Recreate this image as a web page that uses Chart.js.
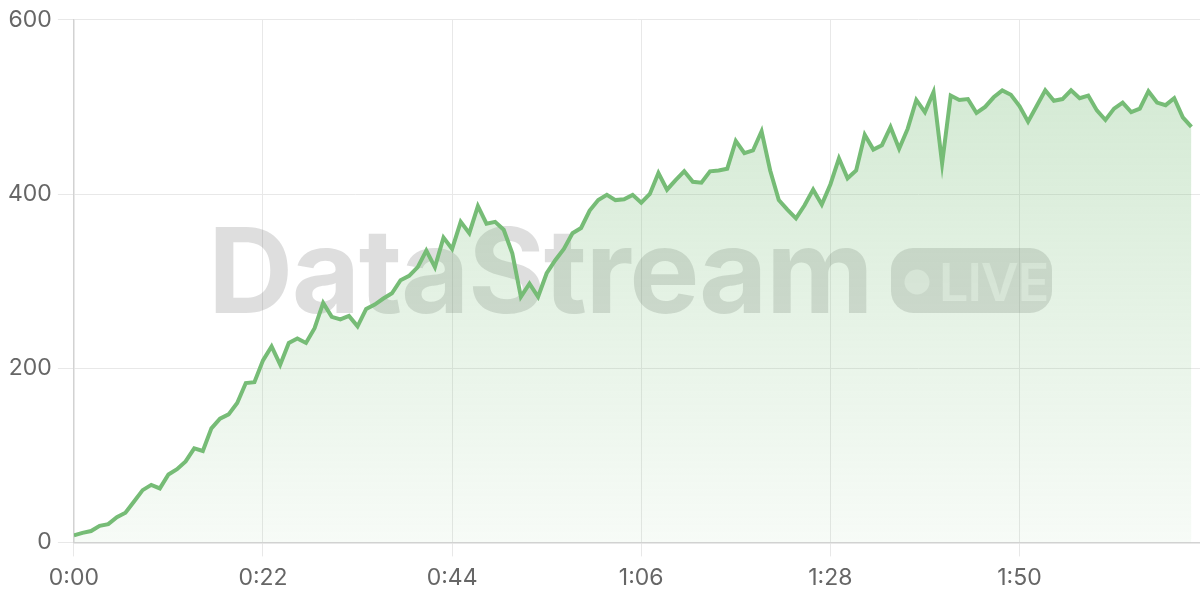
<!DOCTYPE html>
<html>
<head>
<meta charset="utf-8">
<script src="https://cdn.jsdelivr.net/npm/chart.js@4"></script>
<style>
  html, body { margin: 0; padding: 0; background: #fff; }
  #wrap { width: 1200px; height: 600px; }
</style>
</head>
<body>
<div id="wrap"><canvas id="chart" width="1200" height="600"></canvas></div>
<script>
// -------------------- DATA --------------------
const seconds = [
  0, 1, 2, 3, 4, 5, 6, 7, 8, 9, 10, 11, 12, 13, 14, 15, 16, 17, 18, 19,
  20, 21, 22, 23, 24, 25, 26, 27, 28, 29, 30, 31, 32, 33, 34, 35, 36, 37, 38, 39,
  40, 41, 42, 43, 44, 45, 46, 47, 48, 49, 50, 51, 52, 53, 54, 55, 56, 57, 58, 59,
  60, 61, 62, 63, 64, 65, 66, 67, 68, 69, 70, 71, 72, 73, 74, 75, 76, 77, 78, 79,
  80, 81, 82, 83, 84, 85, 86, 87, 88, 89, 90, 91, 92, 93, 94, 95, 96, 97, 98, 99,
  100, 101, 102, 103, 104, 105, 106, 107, 108, 109, 110, 111, 112, 113, 114, 115,
  116, 117, 118, 119, 120, 121, 122, 123, 124, 125, 126, 127, 128, 129, 130
];

const values = [
  8, 11, 13, 19, 21, 29, 34, 47, 60, 66,
  62, 78, 84, 93, 108, 105, 131, 142, 147, 160,
  183, 184, 209, 225, 204, 229, 234, 229, 246, 275,
  259, 256, 260, 248, 268, 273, 280, 286, 301, 306,
  316, 335, 316, 350, 337, 368, 355, 386, 366, 368,
  359, 332, 282, 297, 282, 309, 324, 337, 355, 361,
  381, 393, 399, 393, 394, 399, 390, 400, 424, 405,
  416, 426, 414, 413, 426, 427, 429, 461, 447, 450,
  472, 427, 393, 382, 372, 387, 405, 388, 411, 441,
  418, 427, 468, 451, 456, 477, 452, 475, 508, 494,
  517, 435, 513, 508, 509, 493, 500, 511, 519, 514,
  501, 483, 501, 519, 507, 509, 519, 510, 513, 496,
  485, 498, 505, 494, 498, 518, 505, 502, 510, 488,
  477
];

const xTickValues = [0, 22, 44, 66, 88, 110];
const xTickLabels = ["0:00", "0:22", "0:44", "1:06", "1:28", "1:50"];
const yTickValues = [0, 200, 400, 600];

const lineColor = "rgb(118, 188, 118)";
const gridColor = "#e8e8e8";
const axisColor = "#d2d2d2";
const tickFont = { family: "Inter, 'Noto Sans', sans-serif", size: 23 };

// -------------------- WATERMARK --------------------
const watermark = {
  id: "watermark",
  beforeDatasetsDraw(chart) {
    const ctx = chart.ctx;
    ctx.save();

    ctx.fillStyle = "rgba(60, 60, 60, 0.17)";
    ctx.font = "bold 118px Inter, sans-serif";
    ctx.textAlign = "left";
    ctx.textBaseline = "alphabetic";
    ctx.letterSpacing = "-1.5px";
    ctx.fillText("DataStream", 208, 313);

    // LIVE pill
    ctx.beginPath();
    ctx.roundRect(891, 248, 161, 65, 22);
    ctx.fill();

    ctx.fillStyle = "rgba(255, 255, 255, 0.5)";
    ctx.beginPath();
    ctx.arc(917, 282, 12.5, 0, Math.PI * 2);
    ctx.fill();

    ctx.letterSpacing = "-1px";
    ctx.font = "600 52px Inter, sans-serif";
    ctx.fillText("LIVE", 939, 301);

    ctx.restore();
  }
};

// -------------------- CHART --------------------
const ctx = document.getElementById("chart").getContext("2d");

new Chart(ctx, {
  type: "line",
  data: {
    datasets: [{
      data: seconds.map((s, i) => ({ x: s, y: values[i] })),
      borderColor: lineColor,
      borderWidth: 4,
      pointRadius: 0,
      tension: 0,
      fill: "origin",
      backgroundColor: (c) => {
        const area = c.chart.chartArea;
        if (!area) return "rgba(118,188,118,0.2)";
        const g = c.chart.ctx.createLinearGradient(0, area.top, 0, area.bottom);
        g.addColorStop(0, "rgba(118, 188, 118, 0.35)");
        g.addColorStop(1, "rgba(118, 188, 118, 0.06)");
        return g;
      }
    }]
  },
  options: {
    responsive: false,
    animation: false,
    layout: { padding: { top: 6, right: 0, left: 2, bottom: 0 } },
    plugins: {
      legend: { display: false },
      tooltip: { enabled: false }
    },
    scales: {
      x: {
        type: "linear",
        min: 0,
        max: 131,
        afterBuildTicks: (scale) => {
          scale.ticks = xTickValues.map(v => ({ value: v }));
        },
        ticks: {
          color: "#666",
          font: tickFont,
          padding: 8,
          maxRotation: 0,
          callback: (v) => xTickLabels[xTickValues.indexOf(v)]
        },
        grid: { color: gridColor, tickLength: 14 },
        border: { color: axisColor, width: 1.5 }
      },
      y: {
        min: 0,
        max: 600,
        afterBuildTicks: (scale) => {
          scale.ticks = yTickValues.map(v => ({ value: v }));
        },
        ticks: {
          color: "#666",
          font: tickFont,
          padding: 6
        },
        grid: { color: gridColor, tickLength: 16 },
        border: { color: axisColor, width: 1.5 }
      }
    }
  },
  plugins: [watermark]
});
</script>
</body>
</html>
